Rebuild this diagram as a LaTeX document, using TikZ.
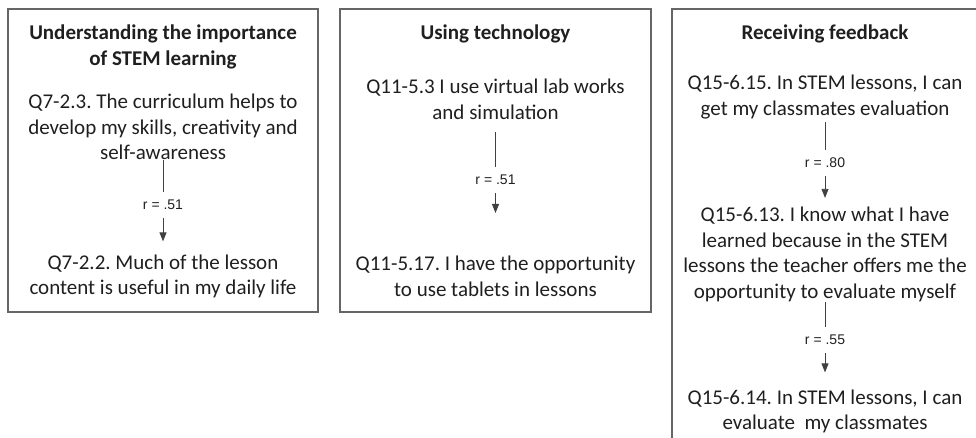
\documentclass[tikz,border=0pt]{standalone}
\usepackage{fontspec}
\setmainfont{Carlito}
\newfontfamily\arialfont{Liberation Sans}
\usetikzlibrary{arrows.meta,backgrounds,fit,positioning}
\frenchspacing

\begin{document}
\begin{tikzpicture}[x=1pt,y=-1pt,line width=0.8pt]
  \tikzstyle{item} = [align=center,inner sep=0pt,text=black!88,font=\fontsize{21}{25.5}\selectfont]
  \tikzstyle{heading} = [item,font=\bfseries\fontsize{21}{25.5}\selectfont]
  \tikzstyle{corr} = [inner xsep=2pt,inner ysep=8pt,text=black!88,font=\arialfont\fontsize{14}{16}\selectfont]
  \tikzstyle{panel} = [draw=black!60,line width=1.2pt,rectangle,inner sep=0pt]
  \tikzstyle{link} = [draw=black!75,line width=0.8pt]
  \tikzstyle{link to} = [link,-{Triangle[length=9pt,width=7pt]}]
  \useasboundingbox (0,0) rectangle (976,438);

  \node [panel,minimum width=310pt,minimum height=303pt] (p1) at (163,160.5) {};
  \node [heading] (h1) at (163,47) {Understanding the importance\\of STEM learning};
  \node [item] (q1a) at (163,127) {Q7-2.3. The curriculum helps to\\develop my skills, creativity and\\self-awareness};
  \node [corr] (r1) at (163,205) {r = .51};
  \node [item] (q1b) at (163,276.5) {Q7-2.2. Much of the lesson\\content is useful in my daily life};
  \draw [link] (q1a) -- (r1);
  \draw [link to,shorten >=13pt] (r1) -- (q1b);

  \node [panel,minimum width=311pt,minimum height=303pt] (p2) at (495.5,160.5) {};
  \node [heading] (h2) at (495.5,34) {Using technology};
  \node [item] (q2a) at (495.5,99.5) {Q11-5.3 I use virtual lab works\\and simulation};
  \node [corr] (r2) at (495.5,180) {r = .51};
  \node [item] (q2b) at (495.5,276.5) {Q11-5.17. I have the opportunity\\to use tablets in lessons};
  \draw [link,shorten <=12pt] (q2a) -- (r2);
  \draw [link to,shorten >=43pt] (r2) -- (q2b);

  \node [panel,minimum width=316pt,minimum height=460pt] (p3) at (830,239) {};
  \node [heading] (h3) at (825,34) {Receiving feedback};
  \node [item] (q3a) at (825,97) {Q15-6.15. In STEM lessons, I can\\get my classmates evaluation};
  \node [corr] (r3) at (825,163) {r = .80};
  \node [item] (q3b) at (825,254.5) {Q15-6.13. I know what I have\\learned because in the STEM\\lessons the teacher offers me the\\opportunity to evaluate myself};
  \node [corr] (r4) at (825,340) {r = .55};
  \node [item] (q3c) at (825,411.5) {Q15-6.14. In STEM lessons, I can\\evaluate\ \ my classmates};
  \draw [link,shorten <=3pt] (q3a) -- (r3);
  \draw [link to,shorten >=9pt] (r3) -- (q3b);
  \draw [link] (q3b) -- (r4);
  \draw [link to,shorten >=17pt] (r4) -- (q3c);
\end{tikzpicture}
\end{document}
